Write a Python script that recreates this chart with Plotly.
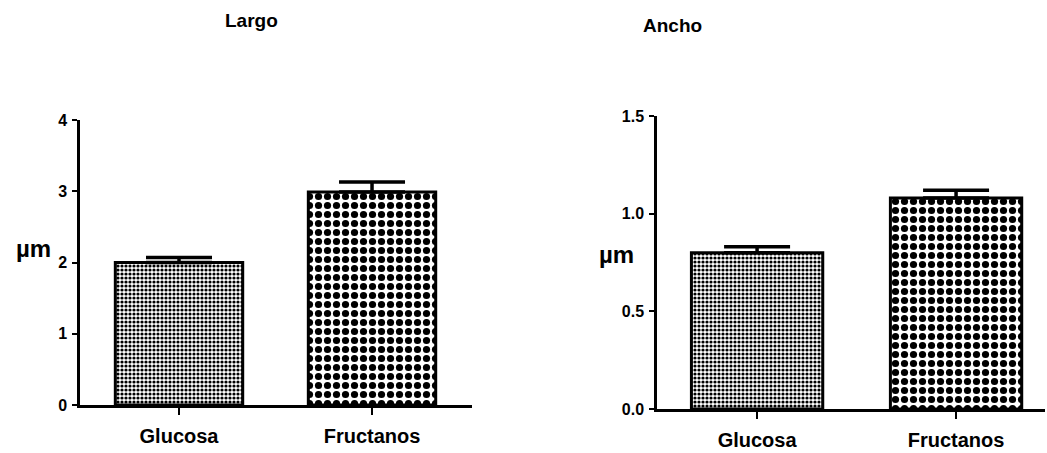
import plotly.graph_objects as go

categories = ["Glucosa", "Fructanos"]
largo_values = [2.0, 2.99]
largo_errors = [0.07, 0.14]
ancho_values = [0.80, 1.08]
ancho_errors = [0.03, 0.04]
largo_ticks = [0, 1, 2, 3, 4]
ancho_ticks = [0.0, 0.5, 1.0, 1.5]
ancho_ticktext = ["0.0", "0.5", "1.0", "1.5"]

W, H = 1047, 453
FONT = "Liberation Sans, Arial, sans-serif"

def px_x(p):
    return p / W

def px_y(p):
    return 1 - p / H

fig = go.Figure()

patterns = [
    dict(shape=".", size=4, solidity=0.5, fgcolor="black", fgopacity=1,
         bgcolor="white", fillmode="overlay"),
    dict(shape=".", size=9, solidity=0.5, fgcolor="black", fgopacity=1,
         bgcolor="white", fillmode="overlay"),
]

for i, cat in enumerate(categories):
    fig.add_trace(go.Bar(
        x=[cat], y=[largo_values[i]], width=0.66,
        marker=dict(color="white", pattern=patterns[i], line=dict(color="black", width=3)),
        error_y=dict(type="data", array=[largo_errors[i]], arrayminus=[0], symmetric=False,
                     color="black", thickness=3.5, width=33),
        xaxis="x", yaxis="y", showlegend=False,
    ))
    fig.add_trace(go.Bar(
        x=[cat], y=[ancho_values[i]], width=0.66,
        marker=dict(color="white", pattern=patterns[i], line=dict(color="black", width=3)),
        error_y=dict(type="data", array=[ancho_errors[i]], arrayminus=[0], symmetric=False,
                     color="black", thickness=3.5, width=33),
        xaxis="x2", yaxis="y2", showlegend=False,
    ))

tickfont = dict(family=FONT, size=16, color="black", weight="bold")
xtickfont = dict(family=FONT, size=20, color="black", weight="bold")

common_x = dict(showline=True, linecolor="black", linewidth=2.5, ticks="outside",
                ticklen=7, tickwidth=1.5, tickcolor="black", tickfont=xtickfont,
                showgrid=False, zeroline=False, ticklabelstandoff=4,
                type="category", fixedrange=True, automargin=False)
common_y = dict(showline=True, linecolor="black", linewidth=2.5, ticks="outside",
                ticklen=5, tickwidth=2, tickcolor="black", tickfont=tickfont,
                showgrid=False, zeroline=False, ticklabelstandoff=2, automargin=False)

def ann(text, x, y, size):
    return dict(text=text, x=px_x(x), y=px_y(y), xref="paper", yref="paper",
                xanchor="center", yanchor="middle", showarrow=False,
                font=dict(family=FONT, size=size, color="black", weight="bold"))

fig.update_layout(
    width=W, height=H,
    margin=dict(l=0, r=0, t=0, b=0, pad=0),
    paper_bgcolor="white", plot_bgcolor="white",
    barmode="overlay",
    xaxis=dict(domain=[px_x(80), px_x(472)], range=[-0.513, 1.518], anchor="y", **common_x),
    yaxis=dict(domain=[px_y(405), px_y(120)], range=[0, 4], tickvals=largo_ticks,
               anchor="x", **common_y),
    xaxis2=dict(domain=[px_x(657), px_x(1045)], range=[-0.503, 1.447], anchor="y2", **common_x),
    yaxis2=dict(domain=[px_y(409), px_y(116)], range=[0, 1.5], tickvals=ancho_ticks,
                ticktext=ancho_ticktext, anchor="x2", **common_y),
    annotations=[
        ann("Largo", 251, 20, 19),
        ann("Ancho", 672, 26, 19),
        ann("µm", 33, 248, 24),
        ann("µm", 616, 254, 24),
    ],
)

css_js = (
    "var s=document.createElement('style');"
    "s.textContent='html,body{margin:0!important;padding:0!important;overflow:hidden;}';"
    "document.head.appendChild(s);"
)

fig.write_html("out.html", config={"displayModeBar": False}, post_script=css_js)
